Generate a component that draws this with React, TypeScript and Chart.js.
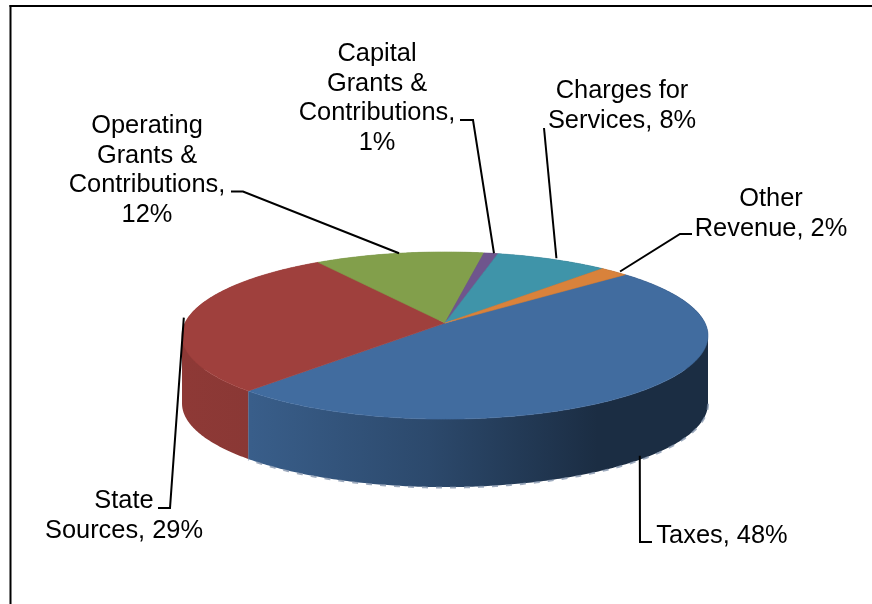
import { useEffect, useRef } from "react";
import { Chart, registerables } from "chart.js";

Chart.register(...registerables);

const categories = ["Taxes", "State Sources", "Operating Grants & Contributions", "Capital Grants & Contributions", "Charges for Services", "Other Revenue"];
const shares = [48, 29, 12, 1, 8, 2];
const sliceColors = ["#416C9F", "#9F403D", "#829F4B", "#6F558D", "#3F94A9", "#D9823B"];
const labelLines = [
  ["Taxes, 48%"],
  ["State", "Sources, 29%"],
  ["Operating", "Grants &", "Contributions,", "12%"],
  ["Capital", "Grants &", "Contributions,", "1%"],
  ["Charges for", "Services, 8%"],
  ["Other", "Revenue, 2%"],
];

// Annotation layout: text block centre and first baseline, leader elbow path, nudge of leader foot
const labelLayout = [
  { cx: 722, y: 543, path: [[640, 542], [652, 542]], nudge: [-8, -1], onWall: true },
  { cx: 124, y: 508, path: [[170, 508], [158, 508]], nudge: [-5, 1], onWall: false },
  { cx: 147, y: 133, path: [[243, 191.5], [231, 191.5]], nudge: [0, 0], onWall: false },
  { cx: 377, y: 61, path: [[473, 120], [460, 120]], nudge: [3, 0], onWall: false },
  { cx: 622, y: 98, path: [[544, 128]], nudge: [4, -1], onWall: false },
  { cx: 771, y: 206, path: [[680, 234], [692, 234]], nudge: [6, 0], onWall: false },
];

const SQUASH = 0.3142; // vertical foreshortening
const PERSP = 0.15; // perspective: nearer edge is larger
const DEPTH = 0.2615; // wall height relative to radius
const LINE = 29.5;

function project(arc: any, a: number) {
  const w = 1 - PERSP * Math.sin(a);
  return [arc.x + (arc.outerRadius * Math.cos(a)) / w, arc.y + (arc.outerRadius * SQUASH * Math.sin(a)) / w];
}

function shade(hex: string, f: number) {
  const n = parseInt(hex.slice(1), 16);
  const c = [(n >> 16) & 255, (n >> 8) & 255, n & 255].map((v) => Math.round(v * f));
  return `rgb(${c[0]},${c[1]},${c[2]})`;
}

function rim(arc: any) {
  const pts: number[][] = [];
  const steps = Math.max(2, Math.ceil((arc.endAngle - arc.startAngle) / 0.01));
  for (let i = 0; i <= steps; i++) {
    pts.push(project(arc, arc.startAngle + ((arc.endAngle - arc.startAngle) * i) / steps));
  }
  return pts;
}

const pie3d = {
  id: "pie3d",
  beforeDatasetDraw(chart: any) {
    const ctx = chart.ctx;
    const arcs = chart.getDatasetMeta(0).data;
    const R = arcs[0].outerRadius;
    const depth = R * DEPTH;
    ctx.save();
    // side walls, swept step by step along the rim, filled as one path
    arcs.forEach((arc: any) => {
      const pts = rim(arc);
      const base = arc.options.backgroundColor;
      const left = arc.x - R * 1.012;
      const g = ctx.createLinearGradient(left, 0, left + R * 2.024, 0);
      [[0, 0.89], [0.13, 0.87], [0.47, 0.68], [0.79, 0.42], [1, 0.42]].forEach(([p, f]) => g.addColorStop(p, shade(base, f)));
      ctx.fillStyle = g;
      ctx.beginPath();
      for (let i = 1; i < pts.length; i++) {
        const [x0, y0] = pts[i - 1];
        const [x1, y1] = pts[i];
        // keep every quad's winding the same so the union fills solid
        const fwd = x1 >= x0;
        ctx.moveTo(fwd ? x0 : x1, fwd ? y0 : y1);
        ctx.lineTo(fwd ? x1 : x0, fwd ? y1 : y0);
        ctx.lineTo(fwd ? x1 : x0, (fwd ? y1 : y0) + depth);
        ctx.lineTo(fwd ? x0 : x1, (fwd ? y0 : y1) + depth);
        ctx.closePath();
      }
      ctx.fill();
    });
    // ragged lower edge of the wall
    ctx.strokeStyle = "rgba(125,143,168,0.75)";
    ctx.lineWidth = 2;
    ctx.setLineDash([6, 8]);
    ctx.beginPath();
    const first = arcs[0];
    const from = first.startAngle;
    const to = first.endAngle;
    for (let i = 0; i <= 300; i++) {
      const a = from + ((to - from) * i) / 300;
      const p = project(first, a);
      if (p[1] < first.y + 12) continue;
      ctx.lineTo(p[0], p[1] + depth + 0.5);
    }
    ctx.stroke();
    ctx.setLineDash([]);
    // top faces
    arcs.forEach((arc: any) => {
      const pts = rim(arc);
      ctx.fillStyle = arc.options.backgroundColor;
      ctx.strokeStyle = arc.options.backgroundColor;
      ctx.lineWidth = 0.6;
      ctx.beginPath();
      ctx.moveTo(arc.x, arc.y);
      pts.forEach((p) => ctx.lineTo(p[0], p[1]));
      ctx.closePath();
      ctx.fill();
      ctx.stroke();
    });
    ctx.restore();
    return false;
  },
  afterDraw(chart: any) {
    const ctx = chart.ctx;
    const arcs = chart.getDatasetMeta(0).data;
    const depth = arcs[0].outerRadius * DEPTH;
    ctx.save();
    ctx.fillStyle = "#000";
    ctx.fillRect(9.5, 5, 2, 599);
    ctx.fillRect(9.5, 5, 862.5, 2);
    ctx.font = '25.4px "Liberation Sans"';
    ctx.textAlign = "center";
    ctx.textBaseline = "alphabetic";
    labelLines.forEach((lines, i) => {
      lines.forEach((t, j) => ctx.fillText(t, labelLayout[i].cx, labelLayout[i].y + j * LINE));
    });
    ctx.strokeStyle = "#000";
    ctx.lineWidth = 2;
    arcs.forEach((arc: any, i: number) => {
      const l = labelLayout[i];
      const foot = project(arc, (arc.startAngle + arc.endAngle) / 2);
      ctx.beginPath();
      ctx.moveTo(foot[0] + l.nudge[0], foot[1] + l.nudge[1] + (l.onWall ? depth : 0));
      l.path.forEach((p) => ctx.lineTo(p[0], p[1]));
      ctx.stroke();
    });
    ctx.restore();
  },
};

export default function App() {
  const ref = useRef<HTMLCanvasElement>(null);
  useEffect(() => {
    const chart = new Chart(ref.current!, {
      type: "pie",
      data: {
        labels: categories,
        datasets: [{ data: shares, backgroundColor: sliceColors, borderWidth: 0 }],
      },
      options: {
        animation: false,
        responsive: false,
        rotation: 49.5,
        layout: { padding: { left: 185, right: 167, top: 63, bottom: 21 } },
        plugins: { legend: { display: false }, tooltip: { enabled: false } },
      },
      plugins: [pie3d],
    } as any);
    return () => chart.destroy();
  }, []);
  return (
    <div style={{ position: "fixed", left: 0, top: 0, width: 872, height: 604, background: "#fff" }}>
      <canvas ref={ref} width={872} height={604} style={{ display: "block" }} />
    </div>
  );
}
